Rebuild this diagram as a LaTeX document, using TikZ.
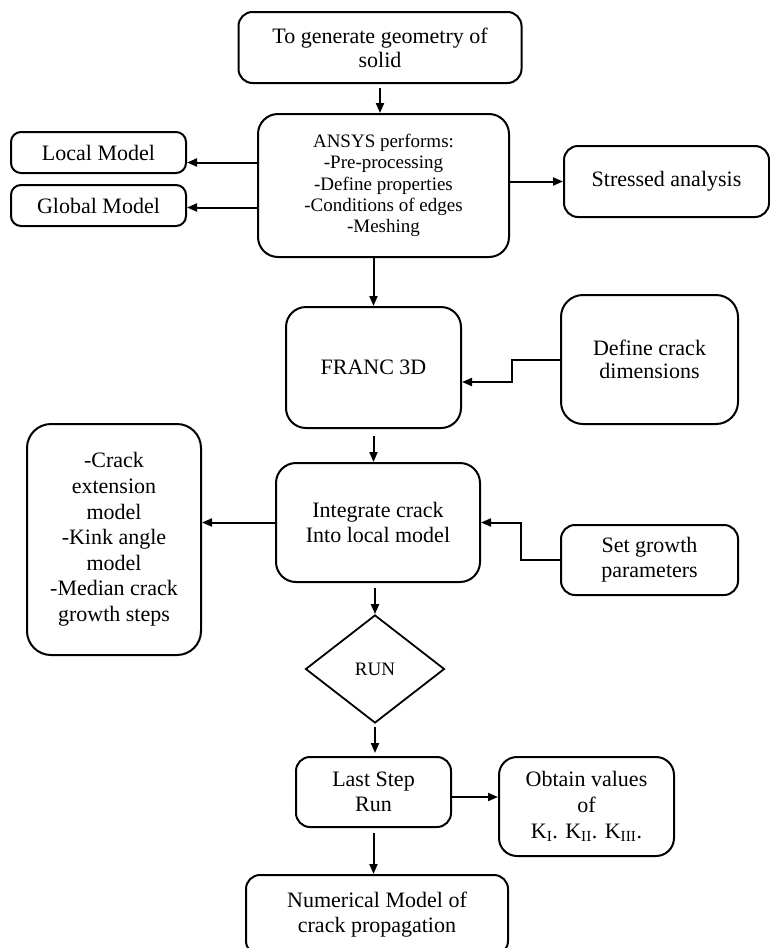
\documentclass[tikz,border=0pt]{standalone}
\usepackage{fontspec}
\setmainfont{Liberation Serif}
\usetikzlibrary{shapes.geometric,arrows.meta}
\begin{document}
\begin{tikzpicture}[x=1pt,y=-1pt,
  box/.style={draw,line width=2pt,rounded corners=14pt,align=center,inner sep=0pt,
    font=\fontsize{22}{25}\selectfont},
  arr/.style={-{Triangle[length=10pt,width=8pt]},line width=2pt}]
\useasboundingbox (0,0) rectangle (770,948);
%
\node[box,minimum width=283pt,minimum height=71pt,font=\fontsize{22}{24}\selectfont]
  (geo) at (380,47.5) {To generate geometry of\\solid};
\node[box,rounded corners=20pt,minimum width=251pt,minimum height=143pt,
  font=\fontsize{19}{21.3}\selectfont]
  (ansys) at (383.5,185.5) {ANSYS performs:\\-Pre-processing\\-Define properties\\
  -Conditions of edges\\-Meshing};
\node[box,rounded corners=10pt,minimum width=175pt,minimum height=41pt]
  (local) at (98.5,152.5) {Local Model};
\node[box,rounded corners=10pt,minimum width=175pt,minimum height=41pt]
  (global) at (98.5,205.5) {Global Model};
\node[box,minimum width=205pt,minimum height=71pt]
  (stress) at (666.5,181.5) {Stressed analysis};
%
\node[box,rounded corners=20pt,minimum width=175pt,minimum height=121pt]
  (franc) at (373.5,367.5) {FRANC 3D};
\node[box,rounded corners=22pt,minimum width=177pt,minimum height=129pt,
  font=\fontsize{22}{23}\selectfont]
  (define) at (649.5,359.5) {Define crack\\dimensions};
\node[box,rounded corners=20pt,minimum width=204pt,minimum height=119pt]
  (integ) at (378,522.5) {Integrate crack\\Into local model};
\node[box,rounded corners=24pt,minimum width=174pt,minimum height=231pt,
  font=\fontsize{22}{25.6}\selectfont]
  (crack) at (114,539.5) {-Crack\\extension\\model\\-Kink angle\\model\\-Median crack\\growth steps};
\node[box,minimum width=177pt,minimum height=70pt]
  (growth) at (649.5,560) {Set growth\\parameters};
%
\node[draw,diamond,line width=1.8pt,minimum width=139pt,minimum height=108pt,inner sep=0pt,
  font=\fontsize{19}{20}\selectfont] (run) at (375,669) {RUN};
\node[box,minimum width=155pt,minimum height=70pt]
  (last) at (373.5,792) {Last Step\\Run};
\node[box,rounded corners=18pt,minimum width=175pt,minimum height=99pt,
  font=\fontsize{22}{26}\selectfont]
  (obtain) at (586.5,806.5) {Obtain values\\of\\K\textsubscript{I}. K\textsubscript{II}. K\textsubscript{III}.};
\node[box,minimum width=262pt,minimum height=80pt]
  (numer) at (377,915) {Numerical Model of\\crack propagation};
%
\draw[arr,shorten <=4pt] (geo.south) -- (geo.south |- ansys.north);
\draw[arr] ([yshift=-10pt]local.east -| ansys.west) -- ([yshift=-10pt]local.east);
\draw[arr] ([yshift=-2pt]global.east -| ansys.west) -- ([yshift=-2pt]global.east);
\draw[arr] (ansys.east |- stress.west) -- (stress.west);
\draw[arr] (franc.north |- ansys.south) -- (franc.north);
\draw[arr] (define.west) -- ++(-48,0) |- ([yshift=-14.5pt]franc.east);
\draw[arr,shorten <=7pt] (franc.south) -- (franc.south |- integ.north);
\draw[arr] (integ.west) -- (integ.west -| crack.east);
\draw[arr] (growth.west) -- ++(-39,0) |- (integ.east);
\draw[arr,shorten <=5pt] (run.north |- integ.south) -- (run.north);
\draw[arr,shorten <=3pt,shorten >=3pt] (run.south) -- (run.south |- last.north);
\draw[arr] ([yshift=-5pt]last.east) -- ([yshift=-5pt]last.east -| obtain.west);
\draw[arr,shorten <=5pt] (last.south) -- (last.south |- numer.north);
%
\end{tikzpicture}
\end{document}
